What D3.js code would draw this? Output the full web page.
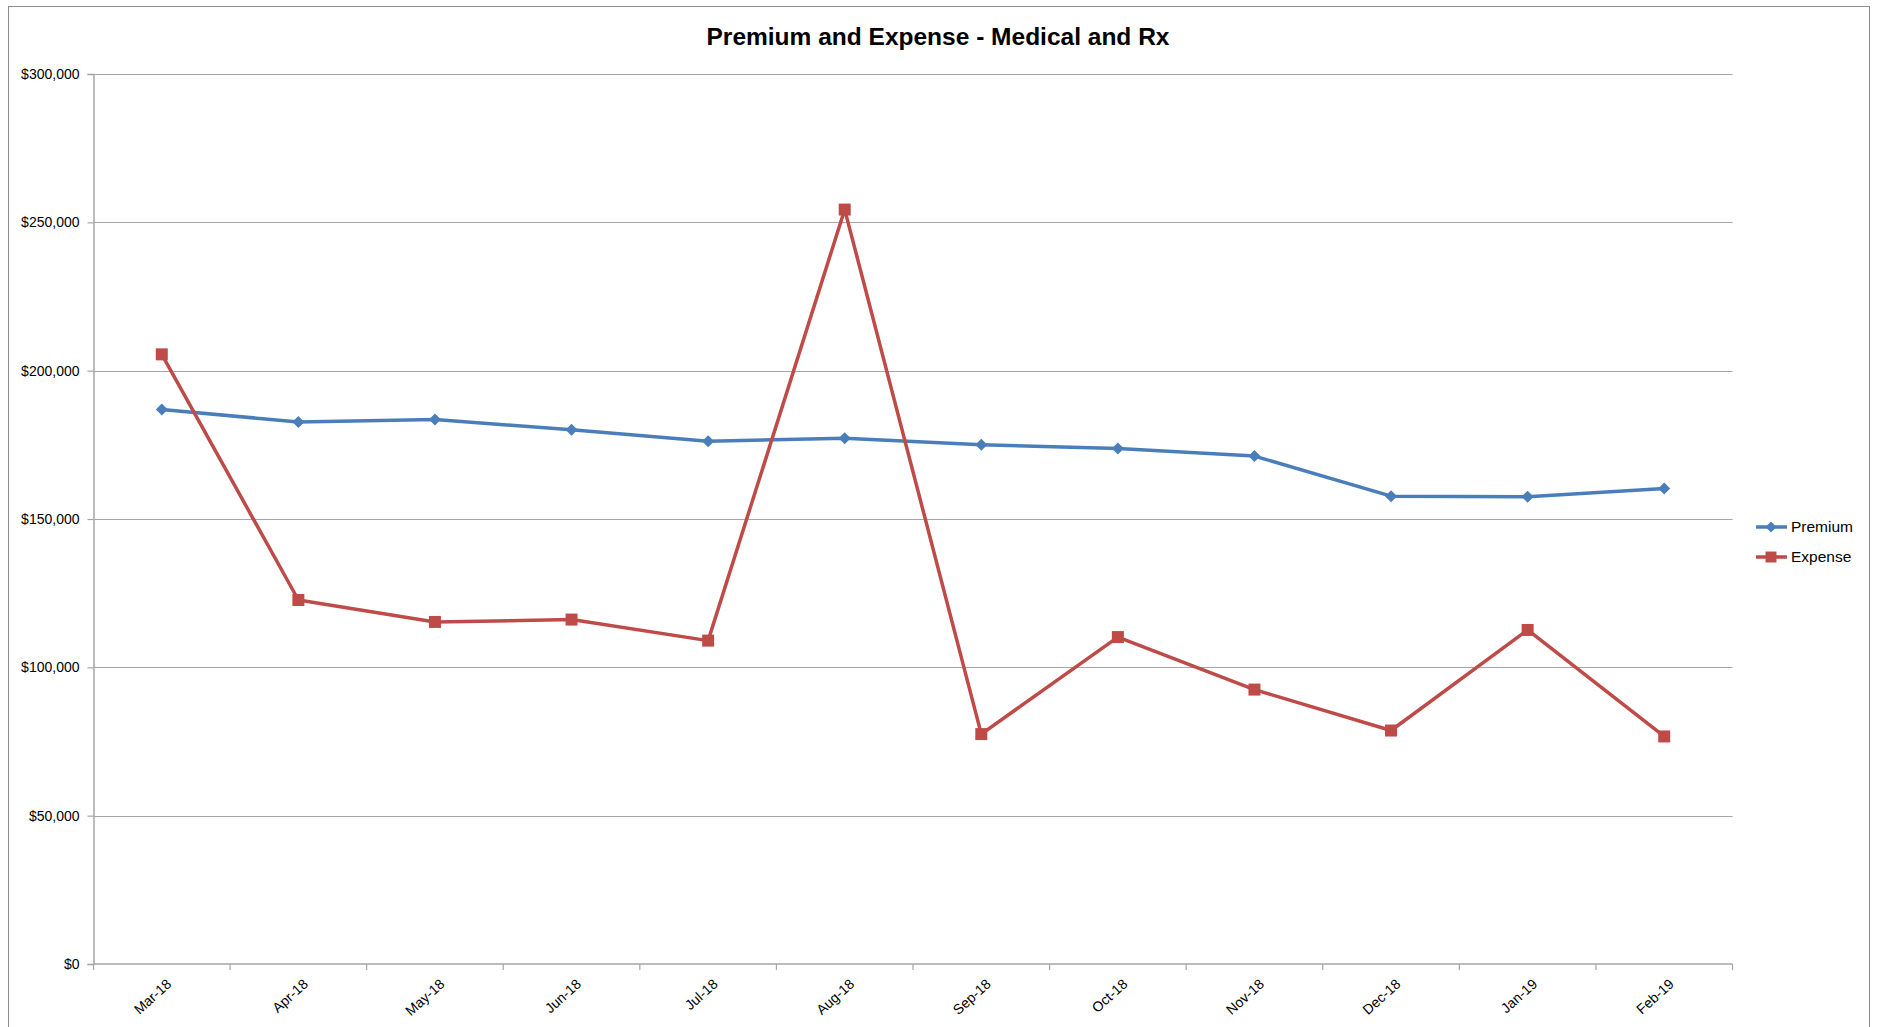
<!DOCTYPE html>
<html><head><meta charset="utf-8">
<script src="https://cdn.jsdelivr.net/npm/d3@7"></script>
<style>body{margin:0;background:#fff}svg{display:block}</style>
</head><body>
<script>
const categories = ["Mar-18","Apr-18","May-18","Jun-18","Jul-18","Aug-18","Sep-18","Oct-18","Nov-18","Dec-18","Jan-19","Feb-19"];
const premium = [186900,182700,183500,180100,176200,177200,175000,173800,171200,157700,157500,160300];
const expense = [205500,122700,115300,116100,109000,254300,77500,110200,92500,78700,112600,76700];
const yTicks = [0,50000,100000,150000,200000,250000,300000];
const seriesNames = ["Premium","Expense"];
const colors = ["#4A7EBB","#BE4B48"];

const W = 1877, H = 1027;
const m = {left:93.5, right:1732.5, top:74, bottom:964};
const font = "'Liberation Sans', Arial, sans-serif";

const svg = d3.select("body").append("svg").attr("width",W).attr("height",H);
svg.append("rect").attr("x",8.5).attr("y",6.5).attr("width",1861).attr("height",1030)
  .attr("fill","#fff").attr("stroke","#8c8c8c").attr("stroke-width",1);

const x = d3.scaleBand().domain(categories).range([m.left,m.right]);
const y = d3.scaleLinear().domain([0,300000]).range([m.bottom,m.top]);

// gridlines
svg.append("g").selectAll("line").data(yTicks.filter(d=>d>0)).join("line")
  .attr("x1",m.left).attr("x2",m.right)
  .attr("y1",d=>Math.round(y(d))+0.5).attr("y2",d=>Math.round(y(d))+0.5)
  .attr("stroke","#a6a6a6").attr("stroke-width",1.2);

// y axis
const yAxis = d3.axisLeft(y).tickValues(yTicks).tickSize(6).tickPadding(8)
  .tickFormat(d=>"$"+d3.format(",")(d));
const gy = svg.append("g").attr("transform",`translate(${m.left},0)`).call(yAxis);
gy.select(".domain").attr("stroke","#a6a6a6").attr("stroke-width",1.5);
gy.selectAll(".tick line").attr("stroke","#a6a6a6").attr("stroke-width",1.2);
gy.selectAll("text").attr("font-family",font).attr("font-size",14).attr("fill","#000");

// x axis
const gx = svg.append("g").attr("transform",`translate(0,${m.bottom})`);
gx.append("line").attr("x1",m.left).attr("x2",m.right).attr("y1",0).attr("y2",0)
  .attr("stroke","#a6a6a6").attr("stroke-width",1.5);
const bounds = categories.map(c=>x(c)).concat([m.right]);
gx.selectAll("line.tk").data(bounds).join("line").attr("class","tk")
  .attr("x1",d=>d).attr("x2",d=>d).attr("y1",0).attr("y2",6)
  .attr("stroke","#a6a6a6").attr("stroke-width",1.2);
gx.selectAll("text").data(categories).join("text")
  .attr("transform",d=>`translate(${x(d)+x.bandwidth()/2+4},${14}) rotate(-42)`)
  .attr("text-anchor","end").attr("dy","0.7em")
  .attr("font-family",font).attr("font-size",14).attr("fill","#000").text(d=>d);

// title
svg.append("text").attr("x",938).attr("y",45).attr("text-anchor","middle")
  .attr("font-family",font).attr("font-weight","bold").attr("font-size",24.5)
  .text("Premium and Expense - Medical and Rx");

const cx = c => x(c)+x.bandwidth()/2;
const line = d3.line().x((d,i)=>cx(categories[i])).y(d=>y(d));
[premium,expense].forEach((s,k)=>{
  svg.append("path").datum(s).attr("d",line).attr("fill","none")
    .attr("stroke",colors[k]).attr("stroke-width",3.5).attr("stroke-linejoin","round");
});
const diamond = d3.symbol().type(d3.symbolSquare).size(72);
const square = d3.symbol().type(d3.symbolSquare).size(144);
[premium,expense].forEach((s,k)=>{
  svg.append("g").selectAll("path").data(s).join("path")
    .attr("transform",(d,i)=>`translate(${cx(categories[i])},${y(d)})` + (k===0?" rotate(45)":""))
    .attr("d",k===0? diamond : square)
    .attr("fill",colors[k]);
});

// legend
const lg = svg.append("g");
seriesNames.forEach((n,k)=>{
  const ly = 527 + k*30;
  lg.append("line").attr("x1",1756).attr("x2",1787).attr("y1",ly).attr("y2",ly)
    .attr("stroke",colors[k]).attr("stroke-width",3.5);
  lg.append("path").attr("transform",`translate(1771,${ly})` + (k===0?" rotate(45)":""))
    .attr("d",k===0? d3.symbol().type(d3.symbolSquare).size(60)() : d3.symbol().type(d3.symbolSquare).size(120)())
    .attr("fill",colors[k]);
  lg.append("text").attr("x",1791).attr("y",ly).attr("dy","0.35em")
    .attr("font-family",font).attr("font-size",15.5).text(n);
});
</script>
</body></html>
